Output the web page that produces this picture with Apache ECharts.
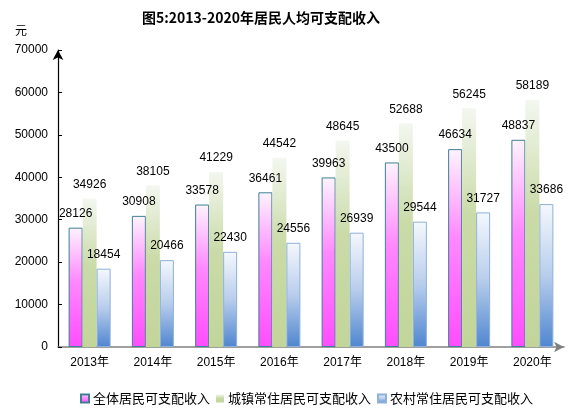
<!DOCTYPE html>
<html><head><meta charset="utf-8">
<script src="https://cdn.jsdelivr.net/npm/echarts@6/dist/echarts.min.js"></script>
<style>html,body{margin:0;padding:0;background:#fff}#c{width:582px;height:420px}</style>
</head><body><div id="c"></div>
<script>
const categories = ['2013年','2014年','2015年','2016年','2017年','2018年','2019年','2020年'];
const allResidents = [28126,30908,33578,36461,39963,43500,46634,48837];
const urbanResidents = [34926,38105,41229,44542,48645,52688,56245,58189];
const ruralResidents = [18454,20466,22430,24556,26939,29544,31727,33686];
const seriesNames = ['全体居民可支配收入','城镇常住居民可支配收入','农村常住居民可支配收入'];

const FONT = "'Liberation Sans','Noto Sans CJK SC',sans-serif";
const G = echarts.graphic.LinearGradient;
const chart = echarts.init(document.getElementById('c'), null, {renderer:'canvas'});
const lbl = {show:true, position:'top', distance:8, color:'#000', fontSize:12, fontFamily:FONT};
chart.setOption({
  animation:false,
  backgroundColor:'#fff',
  title:{text:'图5:2013-2020年居民人均可支配收入', left:137, top:6,
    textStyle:{fontSize:14, fontWeight:'bold', color:'#000', fontFamily:"'Noto Sans CJK SC',sans-serif"}},
  graphic:[{type:'text', left:15, top:24, style:{text:'元', fontSize:12, fill:'#000', fontFamily:"'Noto Sans CJK SC',sans-serif"}}],
  legend:{data:seriesNames, left:75, top:387, itemWidth:8, itemHeight:8, itemGap:6, icon:'rect',
    textStyle:{fontSize:13, color:'#000', fontFamily:"'Noto Sans CJK SC',sans-serif", padding:[0,0,0,-1]}},
  grid:{left:58, right:18, top:50, bottom:73, containLabel:false},
  xAxis:{type:'category', data:categories,
    axisLine:{show:true, lineStyle:{color:'#808080', width:1.5}, symbol:['none','arrow'], symbolSize:[8,10]},
    axisTick:{show:false},
    axisLabel:{color:'#000', fontSize:12, fontFamily:FONT, margin:10}},
  yAxis:{type:'value', min:0, max:70000, interval:10000,
    axisLine:{show:true, lineStyle:{color:'#000', width:1.2}, symbol:['none','arrow'], symbolSize:[8,10]},
    axisTick:{show:true, inside:true, length:4, lineStyle:{color:'#000'}},
    splitLine:{show:false},
    axisLabel:{color:'#000', fontSize:12, fontFamily:FONT, margin:10, formatter:function(v){return String(v);}}},
  series:[
    {name:seriesNames[0], type:'bar', data:allResidents, barWidth:14, barGap:'0%', label:lbl,
      itemStyle:{color:new G(0,0,0,1,[{offset:0,color:'#fdf4fd'},{offset:0.45,color:'#ff88ff'},{offset:1,color:'#ff4dff'}]),
        borderColor:'#3f7f95', borderWidth:1}},
    {name:seriesNames[1], type:'bar', data:urbanResidents, barWidth:14, barGap:'0%', label:lbl,
      itemStyle:{color:new G(0,0,0,1,[{offset:0,color:'#f3f7f0'},{offset:0.45,color:'#cadba8'},{offset:1,color:'#c2d599'}]),
        borderWidth:0}},
    {name:seriesNames[2], type:'bar', data:ruralResidents, barWidth:14, barGap:'0%', label:lbl,
      itemStyle:{color:new G(0,0,0,1,[{offset:0,color:'#f5f8fd'},{offset:0.5,color:'#b8cdec'},{offset:1,color:'#4f86d0'}]),
        borderColor:'#8eb0d9', borderWidth:1}}
  ]
});
</script></body></html>
